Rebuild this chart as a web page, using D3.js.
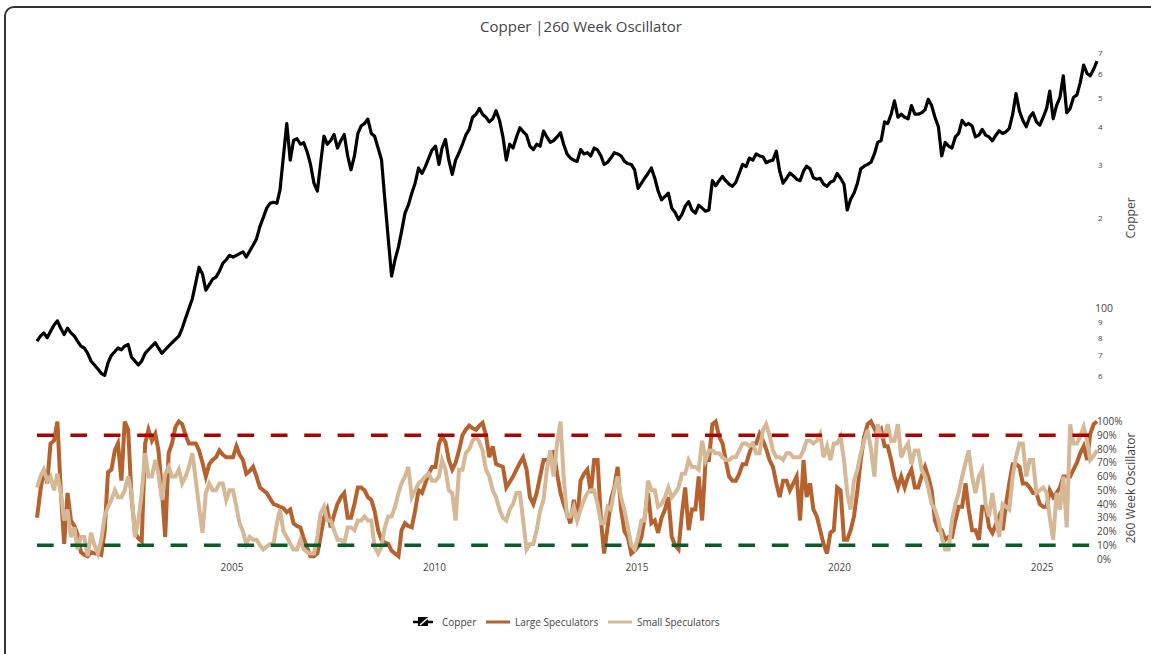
<!DOCTYPE html>
<html>
<head>
<meta charset="utf-8">
<script src="https://cdn.jsdelivr.net/npm/d3@7"></script>
<style>
body { margin: 0; background: #fff; }
svg text { font-family: "Open Sans", verdana, arial, sans-serif; fill: #444; }
</style>
</head>
<body>
<svg id="chart" width="1151" height="654"></svg>
<script>
// monthly series, first value is March 2000
var startMonth = [2000, 3];

// Copper, US cents per pound
var copper = [
    78, 81, 83, 80, 84, 88, 91, 86, 82, 86,
    83, 81, 78, 75, 74, 71, 67, 65, 63, 61, 60, 66,
    70, 72, 74, 73, 75, 76, 69, 67, 65, 67, 71, 73,
    75, 77, 74, 71, 73, 75, 77, 79, 81, 86, 93, 100,
    108, 122, 137, 130, 115, 120, 125, 127, 133, 141, 145, 150,
    148, 150, 152, 154, 148, 155, 162, 170, 187, 200, 215, 223,
    225, 223, 247, 320, 410, 310, 360, 365, 350, 354, 330, 300,
    260, 245, 300, 372, 350, 360, 377, 340, 360, 377, 320, 288,
    320, 380, 402, 410, 424, 380, 372, 340, 311, 230, 170, 128,
    145, 160, 180, 207, 220, 241, 260, 292, 280, 295, 315, 335,
    345, 300, 340, 363, 310, 278, 310, 328, 350, 375, 392, 430,
    440, 460, 440, 430, 415, 425, 452, 420, 370, 310, 350, 340,
    370, 397, 385, 375, 345, 336, 350, 345, 387, 370, 355, 360,
    370, 382, 350, 325, 315, 310, 307, 336, 325, 328, 320, 340,
    335, 320, 300, 305, 315, 328, 325, 320, 307, 302, 300, 288,
    250, 260, 270, 280, 292, 270, 245, 229, 235, 241, 215, 208,
    197, 205, 218, 226, 212, 207, 220, 215, 210, 212, 265, 255,
    265, 274, 265, 258, 254, 262, 280, 300, 295, 315, 310, 325,
    320, 318, 304, 308, 310, 332, 285, 260, 270, 281, 275, 268,
    265, 285, 296, 290, 271, 268, 270, 258, 254, 262, 265, 280,
    270, 258, 212, 230, 241, 260, 290, 296, 300, 305, 325, 355,
    360, 415, 410, 440, 487, 430, 440, 430, 425, 470, 440, 440,
    445, 455, 493, 470, 430, 400, 320, 355, 345, 340, 370, 380,
    420, 405, 410, 402, 370, 375, 392, 375, 370, 359, 375, 388,
    380, 385, 395, 440, 515, 450, 420, 400, 430, 445, 415, 405,
    430, 460, 525, 425, 470, 500, 590, 445, 460, 500, 510, 560,
    640, 600, 590, 620, 660
];

// 260 week oscillator, percent
var largeSpec = [
    30, 50, 65, 55, 84, 86, 100, 50, 11, 48,
    28, 24, 18, 5, 3, 2, 5, 4, 4, 3, 20, 63,
    65, 79, 84, 57, 100, 94, 45, 19, 15, 13, 84, 94,
    86, 91, 79, 50, 16, 77, 84, 96, 100, 98, 90, 84,
    84, 84, 79, 70, 60, 69, 72, 74, 79, 76, 74, 74,
    74, 82, 76, 72, 62, 64, 67, 60, 52, 50, 48, 44,
    40, 39, 38, 37, 34, 36, 26, 24, 23, 15, 8, 2,
    2, 4, 16, 30, 36, 23, 32, 40, 45, 48, 30, 30,
    40, 52, 52, 50, 45, 43, 35, 21, 14, 12, 11, 6,
    4, 2, 21, 26, 24, 23, 35, 50, 48, 55, 62, 67,
    67, 84, 89, 85, 72, 65, 70, 79, 90, 94, 97, 95,
    94, 97, 99, 90, 74, 82, 69, 68, 67, 52, 56, 60,
    65, 70, 74, 65, 45, 40, 48, 60, 72, 72, 72, 79,
    62, 48, 40, 33, 26, 43, 28, 57, 62, 65, 48, 72,
    72, 28, 4, 23, 43, 52, 67, 36, 20, 16, 4, 6,
    9, 16, 30, 48, 26, 28, 19, 30, 36, 45, 16, 10,
    7, 33, 52, 21, 36, 36, 60, 28, 72, 72, 98, 100,
    89, 84, 72, 60, 57, 57, 62, 69, 69, 77, 84, 84,
    91, 86, 80, 72, 67, 55, 45, 57, 57, 50, 55, 60,
    28, 72, 45, 55, 36, 31, 21, 11, 4, 19, 21, 52,
    50, 14, 14, 21, 31, 50, 72, 89, 98, 100, 95, 90,
    94, 82, 82, 72, 60, 52, 60, 52, 60, 65, 52, 52,
    60, 67, 60, 50, 28, 21, 21, 14, 16, 16, 28, 38,
    38, 55, 36, 21, 21, 14, 38, 38, 23, 19, 25, 31,
    21, 40, 55, 69, 69, 67, 55, 55, 52, 48, 48, 40,
    38, 38, 50, 45, 48, 52, 60, 60, 60, 65, 70, 77,
    82, 72, 91, 98, 100
];

var smallSpec = [
    52, 60, 65, 57, 60, 50, 62, 48, 28, 36,
    16, 23, 7, 16, 16, 2, 19, 10, 4, 14, 31, 38,
    43, 50, 45, 45, 50, 60, 48, 16, 28, 48, 77, 60,
    60, 72, 62, 43, 62, 67, 60, 60, 65, 55, 60, 67,
    77, 57, 38, 19, 48, 55, 50, 50, 55, 55, 43, 50,
    50, 38, 26, 20, 11, 16, 14, 14, 10, 7, 9, 11,
    11, 26, 36, 20, 16, 11, 7, 7, 14, 7, 5, 4,
    4, 16, 33, 38, 28, 28, 21, 14, 14, 11, 23, 23,
    21, 28, 28, 31, 28, 28, 9, 4, 9, 23, 31, 31,
    38, 48, 55, 60, 67, 45, 50, 55, 57, 60, 62, 57,
    57, 60, 72, 65, 50, 48, 28, 65, 65, 77, 80, 86,
    89, 85, 79, 65, 60, 50, 45, 36, 30, 28, 36, 40,
    48, 48, 28, 7, 11, 11, 21, 35, 43, 65, 79, 60,
    84, 100, 60, 31, 31, 38, 28, 36, 43, 48, 50, 50,
    40, 26, 26, 38, 36, 50, 60, 45, 35, 23, 10, 7,
    16, 28, 28, 57, 50, 50, 38, 40, 45, 52, 45, 48,
    52, 62, 62, 72, 67, 67, 65, 86, 72, 79, 79, 77,
    77, 74, 72, 72, 74, 74, 79, 84, 84, 82, 84, 77,
    77, 94, 98, 90, 79, 74, 74, 72, 77, 77, 74, 74,
    74, 79, 86, 86, 84, 86, 91, 74, 82, 72, 84, 84,
    89, 72, 48, 36, 57, 65, 77, 86, 94, 80, 60, 98,
    89, 89, 98, 86, 86, 98, 74, 80, 84, 69, 79, 79,
    65, 60, 52, 40, 36, 28, 16, 7, 7, 28, 40, 48,
    60, 70, 79, 60, 48, 60, 65, 40, 31, 48, 30, 16,
    40, 38, 36, 60, 74, 84, 84, 60, 72, 72, 48, 50,
    52, 48, 30, 14, 48, 36, 60, 23, 98, 84, 84, 89,
    96, 86, 72, 75, 79
];

var xTicks = [2005, 2010, 2015, 2020, 2025];
var copperTicks = [60, 70, 80, 90, 100, 200, 300, 400, 500, 600, 700];
var copperRange = [51.3, 775];
var oscTicks = [0, 10, 20, 30, 40, 50, 60, 70, 80, 90, 100];
var upperBand = 90, lowerBand = 10;

var months = copper.map(function(d, i) {
    return new Date(startMonth[0], startMonth[1] - 1 + i, 15);
});

var svg = d3.select("#chart");

// outer frame
svg.append("rect")
    .attr("x", 5).attr("y", 7)
    .attr("width", 1170).attr("height", 680)
    .attr("rx", 9)
    .attr("fill", "none")
    .attr("stroke", "#333")
    .attr("stroke-width", 2);

svg.append("text")
    .attr("x", 581).attr("y", 32)
    .attr("text-anchor", "middle")
    .style("font-size", "15px")
    .text("Copper |260 Week Oscillator");

var x = d3.scaleTime().domain(d3.extent(months)).range([37, 1097]);
var yTop = d3.scaleLog().domain(copperRange).range([396, 40]);
var yBot = d3.scaleLinear().domain([0, 100]).range([559, 421.5]);

// x axis under the oscillator
var xAxis = svg.append("g")
    .attr("transform", "translate(0,562)")
    .call(d3.axisBottom(x)
        .tickValues(xTicks.map(function(y) { return new Date(y, 0, 1); }))
        .tickFormat(d3.timeFormat("%Y"))
        .tickSize(0)
        .tickPadding(0));
xAxis.select(".domain").remove();
xAxis.selectAll("text").style("font-size", "10px").attr("dy", "0.9em");

// copper axis (log, plotly style digits)
var cAxis = svg.append("g")
    .attr("transform", "translate(1096,0)")
    .call(d3.axisRight(yTop)
        .tickValues(copperTicks)
        .tickFormat(function(d) { return d === 100 ? "100" : String(d).charAt(0); })
        .tickSize(0)
        .tickPadding(1));
cAxis.select(".domain").remove();
cAxis.selectAll("text")
    .style("font-size", function(d) { return d === 100 ? "10.5px" : "8px"; })
    .attr("x", function(d) { return d === 100 ? -1 : 2; });

var oAxis = svg.append("g")
    .attr("transform", "translate(1096,0)")
    .call(d3.axisRight(yBot)
        .tickValues(oscTicks)
        .tickFormat(function(d) { return d + "%"; })
        .tickSize(0)
        .tickPadding(1));
oAxis.select(".domain").remove();
oAxis.selectAll("text").style("font-size", "10px");

svg.append("text")
    .attr("transform", "translate(1135,218) rotate(-90)")
    .attr("text-anchor", "middle")
    .style("font-size", "12px")
    .text("Copper");
svg.append("text")
    .attr("transform", "translate(1135,488) rotate(-90)")
    .attr("text-anchor", "middle")
    .style("font-size", "12px")
    .text("260 Week Oscillator");

// copper price line
var copperLine = d3.line()
    .x(function(d, i) { return x(months[i]); })
    .y(function(d) { return yTop(d); });
svg.append("path")
    .datum(copper)
    .attr("d", copperLine)
    .attr("fill", "none")
    .attr("stroke", "#000")
    .attr("stroke-width", 3.2)
    .attr("stroke-linejoin", "round");

// oscillators
var oscLine = d3.line()
    .x(function(d, i) { return x(months[i]); })
    .y(function(d) { return yBot(d); });
svg.append("path")
    .datum(largeSpec)
    .attr("d", oscLine)
    .attr("fill", "none")
    .attr("stroke", "#b5622f")
    .attr("stroke-width", 4);
svg.append("path")
    .datum(smallSpec)
    .attr("d", oscLine)
    .attr("fill", "none")
    .attr("stroke", "#d5b896")
    .attr("stroke-width", 4);

// 90% / 10% bands
[[upperBand, "#b00000"], [lowerBand, "#0b5a2a"]].forEach(function(b) {
    svg.append("line")
        .attr("x1", x.range()[0]).attr("x2", x.range()[1] - 4)
        .attr("y1", yBot(b[0])).attr("y2", yBot(b[0]))
        .attr("stroke", b[1])
        .attr("stroke-width", 3.5)
        .attr("stroke-dasharray", "16.7,16.7");
});

// legend
var lg = svg.append("g").attr("transform", "translate(0,622)");
lg.append("line").attr("x1", 413).attr("x2", 433).attr("y1", 0).attr("y2", 0)
    .attr("stroke", "#000").attr("stroke-width", 2.5);
lg.append("rect").attr("x", 418).attr("y", -5).attr("width", 10).attr("height", 9).attr("fill", "#000");
lg.append("line").attr("x1", 420).attr("y1", 3).attr("x2", 428).attr("y2", -4)
    .attr("stroke", "#fff").attr("stroke-width", 1.5);
lg.append("text").attr("x", 442).attr("y", 4).style("font-size", "10px").text("Copper");
lg.append("line").attr("x1", 486).attr("x2", 510).attr("y1", 0).attr("y2", 0)
    .attr("stroke", "#b5622f").attr("stroke-width", 3);
lg.append("text").attr("x", 515).attr("y", 4).style("font-size", "10px").text("Large Speculators");
lg.append("line").attr("x1", 608).attr("x2", 632).attr("y1", 0).attr("y2", 0)
    .attr("stroke", "#d5b896").attr("stroke-width", 3);
lg.append("text").attr("x", 637).attr("y", 4).style("font-size", "10px").text("Small Speculators");
</script>
</body>
</html>
